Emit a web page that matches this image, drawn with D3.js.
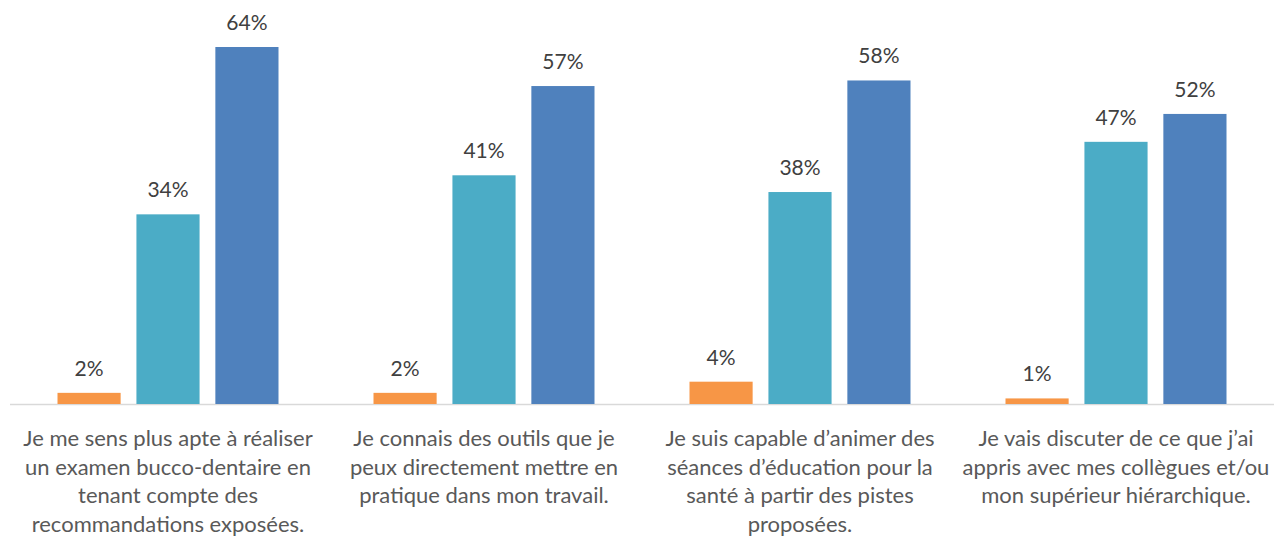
<!DOCTYPE html>
<html>
<head>
<meta charset="utf-8">
<script src="https://cdn.jsdelivr.net/npm/d3@7"></script>
<style>
  html, body { margin: 0; padding: 0; background: #fff; }
  svg { display: block; }
</style>
</head>
<body>
<div id="chart"></div>
<script>
'use strict';

// categories (line breaks as in the original)
const categories = [
    ["Je me sens plus apte à réaliser", "un examen bucco-dentaire en", "tenant compte des", "recommandations exposées."],
    ["Je connais des outils que je", "peux directement mettre en", "pratique dans mon travail."],
    ["Je suis capable d’animer des", "séances d’éducation pour la", "santé à partir des pistes", "proposées."],
    ["Je vais discuter de ce que j’ai", "appris avec mes collègues et/ou", "mon supérieur hiérarchique."]
];
const series = ["s1", "s2", "s3"];
const seriesColors = ["#F79646", "#4BACC6", "#4F81BD"];
const s1Values = [2, 2, 4, 1];
const s2Values = [34, 41, 38, 47];
const s3Values = [64, 57, 58, 52];

const values = [s1Values, s2Values, s3Values];

var width = 1274, height = 536;
var font = "Lato, 'Open Sans', sans-serif";

var svg = d3.select("#chart").append("svg")
    .attr("width", width)
    .attr("height", height);

var x = d3.scaleBand()
    .domain(d3.range(categories.length))
    .range([10, 1274]);

var xInner = d3.scaleBand()
    .domain(series)
    .range([47.5, x.bandwidth() - 47.5])
    .paddingInner(0.2);

var y = d3.scaleLinear()
    .domain([0, 64])
    .range([404, 47]);

// axis line
svg.append("line")
    .attr("x1", 10).attr("x2", 1274)
    .attr("y1", y(0) + 0.5).attr("y2", y(0) + 0.5)
    .style("stroke", "#D9D9D9")
    .style("stroke-width", "1.5px");

var groups = svg.selectAll("g.grp")
    .data(categories)
    .enter().append("g")
    .attr("class", "grp")
    .attr("transform", function (d, i) { return "translate(" + x(i) + ",0)"; });

groups.each(function (cat, i) {
    var g = d3.select(this);
    series.forEach(function (s, j) {
        var v = values[j][i];
        g.append("rect")
            .attr("x", xInner(s))
            .attr("width", xInner.bandwidth())
            .attr("y", y(v))
            .attr("height", y(0) - y(v))
            .style("fill", seriesColors[j]);
        g.append("text")
            .attr("x", xInner(s) + xInner.bandwidth() / 2)
            .attr("y", y(v) - 17)
            .attr("text-anchor", "middle")
            .style("font-family", font)
            .style("font-size", "21px")
            .style("fill", "#404040")
            .text(v + "%");
    });

    var t = g.append("text")
        .attr("text-anchor", "middle")
        .style("font-family", font)
        .style("font-size", "22px")
        .style("fill", "#595959");
    cat.forEach(function (line, k) {
        t.append("tspan")
            .attr("x", x.bandwidth() / 2)
            .attr("y", 446 + k * 28.5)
            .text(line);
    });
});
</script>
</body>
</html>
